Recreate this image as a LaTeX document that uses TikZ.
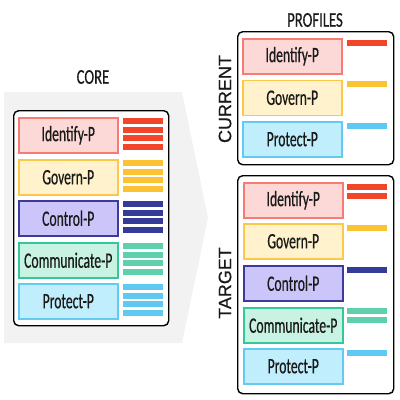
\documentclass[tikz,border=0pt]{standalone}
\usepackage{fontspec}
\newfontfamily\labfont[FakeStretch=0.62,FakeBold=0.5]{Carlito}
\newfontfamily\headfont[FakeStretch=0.7,FakeBold=0.5]{Carlito}
\newfontfamily\sidefont[FakeBold=0.4]{Liberation Sans}
\definecolor{idF}{HTML}{FCD9D6}
\definecolor{idD}{HTML}{F77B72}
\definecolor{idB}{HTML}{F2452A}
\definecolor{gvF}{HTML}{FFF2CC}
\definecolor{gvD}{HTML}{FBC84A}
\definecolor{gvB}{HTML}{FBC234}
\definecolor{ctF}{HTML}{CBC5FA}
\definecolor{ctD}{HTML}{3C3B9C}
\definecolor{ctB}{HTML}{363A99}
\definecolor{cmF}{HTML}{C8F3E3}
\definecolor{cmD}{HTML}{33C79C}
\definecolor{cmB}{HTML}{5FD0AD}
\definecolor{prF}{HTML}{C0EEFD}
\definecolor{prD}{HTML}{63CBF2}
\definecolor{prB}{HTML}{5FC9F3}
\definecolor{arrowgray}{HTML}{F2F2F2}
\definecolor{txt}{HTML}{1A1A1A}
\newcommand\mkrow[6]{\node[lab, fill=#4, draw=#5] (#1) at (#2,#3) {#6};}
\newcommand\mkbars[4]{\foreach \k in {1,...,#3} {\fill[#4] (#1,{#2+(\k-1)*8.5}) rectangle ++(40,6);}}
\begin{document}
\begin{tikzpicture}[x=1pt,y=-1pt,
  lab/.style={line width=1.5pt, minimum width=99pt, minimum height=35pt, inner sep=0pt,
    text=txt, font=\labfont\fontsize{22}{22}\selectfont, anchor=north west},
  panel/.style={draw=black, rounded corners=5pt, line width=1.4pt, fill=white,
    anchor=north west, inner sep=0pt},
  head/.style={text=txt, font=\headfont\fontsize{21}{21}\selectfont},
  side/.style={text=txt, font=\sidefont\fontsize{18}{18}\selectfont, rotate=90}]
\useasboundingbox (0,0) rectangle (400,400);
\fill[arrowgray] (4,92) -- (182,92) -- (208,218) -- (182,343) -- (4,343) -- cycle;
% CORE
\node[head] (corelabel) at (93,77) {CORE};
\node[panel, minimum width=155pt, minimum height=215pt] (core) at (13,110) {};
\mkrow{cid}{18}{117}{idF}{idD}{Identify-P}
\mkrow{cgv}{18}{159}{gvF}{gvD}{Govern-P}
\mkrow{cct}{18}{200}{ctF}{ctD}{Control-P}
\mkrow{ccm}{18}{242}{cmF}{cmD}{Communicate-P}
\mkrow{cpr}{18}{283}{prF}{prD}{Protect-P}
\mkbars{123}{118}{4}{idB}
\mkbars{123}{160}{4}{gvB}
\mkbars{123}{201}{4}{ctB}
\mkbars{123}{243}{4}{cmB}
\mkbars{123}{284}{4}{prB}
% PROFILES
\node[head] (proflabel) at (315,20) {PROFILES};
\node[panel, minimum width=156pt, minimum height=133pt] (cur) at (237,31) {};
\node[side] (curlabel) at (225,99) {CURRENT};
\mkrow{pid}{242}{38}{idF}{idD}{Identify-P}
\mkrow{pgv}{242}{79.5}{gvF}{gvD}{Govern-P}
\mkrow{ppr}{242}{121}{prF}{prD}{Protect-P}
\mkbars{347}{40}{1}{idB}
\mkbars{347}{81}{1}{gvB}
\mkbars{347}{123}{1}{prB}
\node[panel, minimum width=156pt, minimum height=218pt] (tgt) at (237,175) {};
\node[side] (tgtlabel) at (225,283) {TARGET};
\mkrow{tid}{243}{182}{idF}{idD}{Identify-P}
\mkrow{tgv}{243}{223}{gvF}{gvD}{Govern-P}
\mkrow{tct}{243}{265}{ctF}{ctD}{Control-P}
\mkrow{tcm}{243}{307}{cmF}{cmD}{Communicate-P}
\mkrow{tpr}{243}{348}{prF}{prD}{Protect-P}
\mkbars{347}{184}{2}{idB}
\mkbars{347}{225}{1}{gvB}
\mkbars{347}{267}{1}{ctB}
\mkbars{347}{308}{2}{cmB}
\mkbars{347}{350}{1}{prB}
\end{tikzpicture}
\end{document}
